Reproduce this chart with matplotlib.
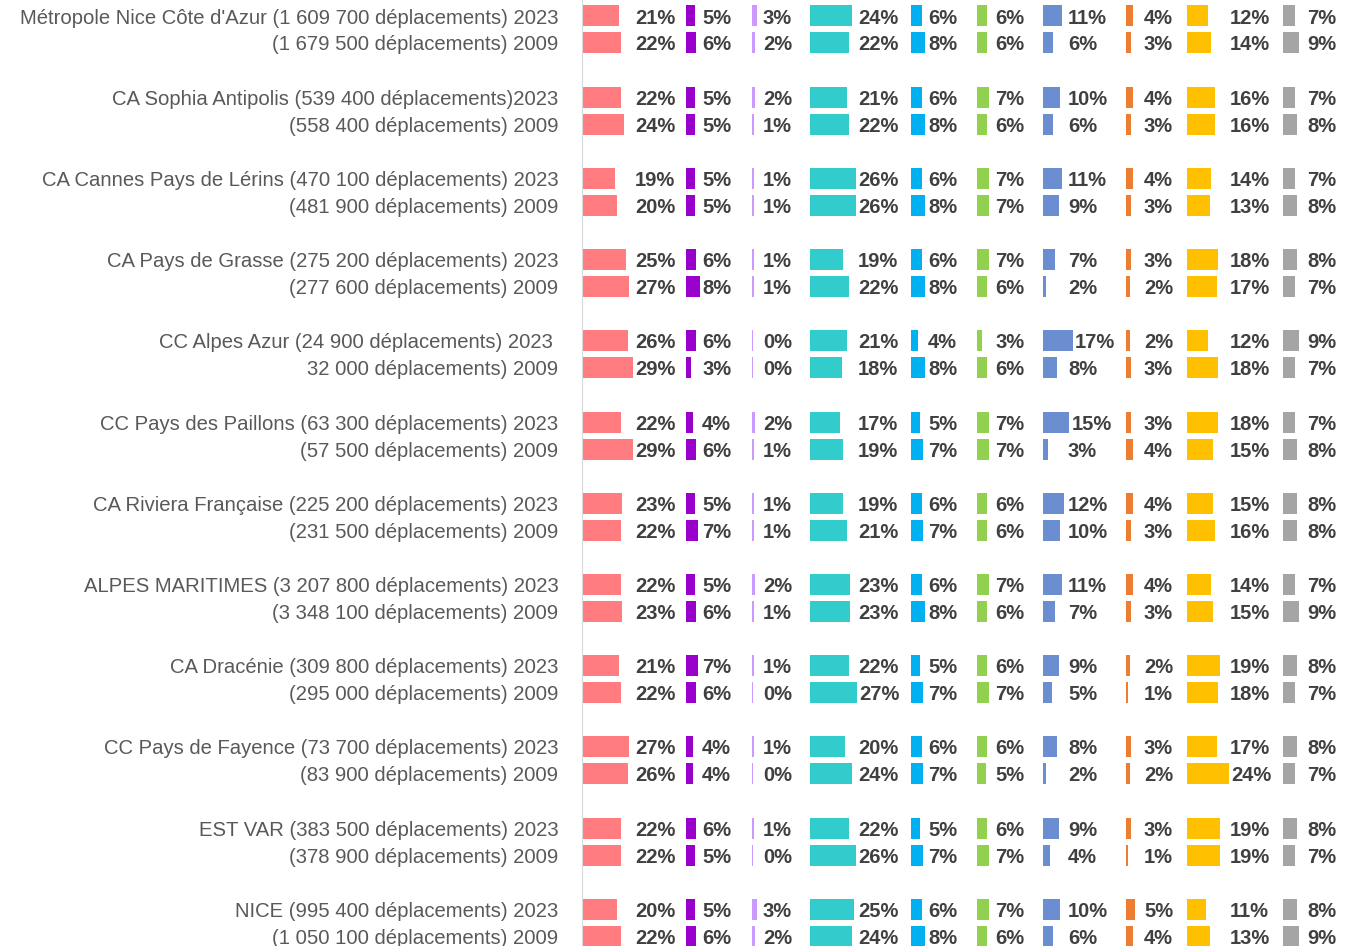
import matplotlib
matplotlib.use("Agg")
import matplotlib.pyplot as plt

plt.rcParams['font.family'] = ['Liberation Sans', 'DejaVu Sans']

labels_2023 = [
    "Métropole Nice Côte d'Azur (1 609 700 déplacements) 2023",
    "CA Sophia Antipolis (539 400 déplacements)2023",
    "CA Cannes Pays de Lérins (470 100 déplacements) 2023",
    "CA Pays de Grasse (275 200 déplacements) 2023",
    "CC Alpes Azur (24 900 déplacements) 2023 ",
    "CC Pays des Paillons (63 300 déplacements) 2023",
    "CA Riviera Française (225 200 déplacements) 2023",
    "ALPES MARITIMES (3 207 800 déplacements) 2023",
    "CA Dracénie (309 800 déplacements) 2023",
    "CC Pays de Fayence (73 700 déplacements) 2023",
    "EST VAR (383 500 déplacements) 2023",
    "NICE (995 400 déplacements) 2023",
]
labels_2009 = [
    "(1 679 500 déplacements) 2009",
    "(558 400 déplacements) 2009",
    "(481 900 déplacements) 2009",
    "(277 600 déplacements) 2009",
    "32 000 déplacements) 2009",
    "(57 500 déplacements) 2009",
    "(231 500 déplacements) 2009",
    "(3 348 100 déplacements) 2009",
    "(295 000 déplacements) 2009",
    "(83 900 déplacements) 2009",
    "(378 900 déplacements) 2009",
    "(1 050 100 déplacements) 2009",
]

# one row per zone, one value per mode (%)
shares_2023 = [
    [21, 5, 3, 24, 6, 6, 11, 4, 12, 7],
    [22, 5, 2, 21, 6, 7, 10, 4, 16, 7],
    [19, 5, 1, 26, 6, 7, 11, 4, 14, 7],
    [25, 6, 1, 19, 6, 7, 7, 3, 18, 8],
    [26, 6, 0, 21, 4, 3, 17, 2, 12, 9],
    [22, 4, 2, 17, 5, 7, 15, 3, 18, 7],
    [23, 5, 1, 19, 6, 6, 12, 4, 15, 8],
    [22, 5, 2, 23, 6, 7, 11, 4, 14, 7],
    [21, 7, 1, 22, 5, 6, 9, 2, 19, 8],
    [27, 4, 1, 20, 6, 6, 8, 3, 17, 8],
    [22, 6, 1, 22, 5, 6, 9, 3, 19, 8],
    [20, 5, 3, 25, 6, 7, 10, 5, 11, 8],
]
shares_2009 = [
    [22, 6, 2, 22, 8, 6, 6, 3, 14, 9],
    [24, 5, 1, 22, 8, 6, 6, 3, 16, 8],
    [20, 5, 1, 26, 8, 7, 9, 3, 13, 8],
    [27, 8, 1, 22, 8, 6, 2, 2, 17, 7],
    [29, 3, 0, 18, 8, 6, 8, 3, 18, 7],
    [29, 6, 1, 19, 7, 7, 3, 4, 15, 8],
    [22, 7, 1, 21, 7, 6, 10, 3, 16, 8],
    [23, 6, 1, 23, 8, 6, 7, 3, 15, 9],
    [22, 6, 0, 27, 7, 7, 5, 1, 18, 7],
    [26, 4, 0, 24, 7, 5, 2, 2, 24, 7],
    [22, 5, 0, 26, 7, 7, 4, 1, 19, 7],
    [22, 6, 2, 24, 8, 6, 6, 4, 13, 9],
]

colors = ["#FF7C80", "#9900CC", "#CC99FF", "#33CCCC", "#00B0F0",
          "#92D050", "#6A8ED0", "#ED7D31", "#FFC000", "#A5A5A5"]

# layout: where each mode's bar and its label start (in % units)
col_start = [0, 59.4, 97.1, 130.3, 188.0, 225.7, 263.4, 310.9, 345.7, 400.6]
label_start = [30.3, 68.6, 103.4, 157.7, 197.7, 236.0, 277.7, 321.1, 370.3, 414.3]

group_step = 81.2
pair_step = 27.0

fig = plt.figure(figsize=(13.47, 9.46), dpi=100)
ax = fig.add_axes([582 / 1347, 0, 1 - 582 / 1347, 1])

yticks, ylabels = [], []
for g in range(len(labels_2023)):
    for k, (labs, data) in enumerate([(labels_2023, shares_2023), (labels_2009, shares_2009)]):
        y = g * group_step + k * pair_step
        yticks.append(y)
        ylabels.append(labs[g])
        for m, v in enumerate(data[g]):
            ax.barh(y, max(v, 0.8), left=col_start[m], height=21, color=colors[m],
                    edgecolor="none")
            tx = max(label_start[m], col_start[m] + v + 1.2)
            ax.text(tx, y, f"{v}%", ha="left", va="center_baseline", fontsize=14.5,
                    fontweight="bold", color="#404040")

ax.set_xlim(0, (1347 - 582) / 1.75)
ax.set_ylim(946 - 16, -16)
ax.set_yticks(yticks)
ax.set_yticklabels(ylabels, fontsize=14.6, color="#595959")
for t in ax.get_yticklabels():
    t.set_va("center_baseline")
ax.tick_params(axis="y", length=0, pad=17)
ax.set_xticks([])
for s in ["top", "right", "bottom"]:
    ax.spines[s].set_visible(False)
ax.spines["left"].set_color("#D9D9D9")
ax.patch.set_alpha(0)

fig.savefig("out.png", dpi=100)
